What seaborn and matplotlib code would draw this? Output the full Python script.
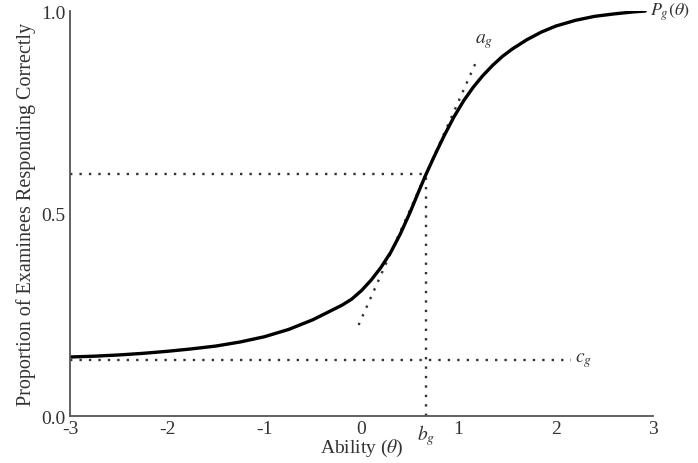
import matplotlib
matplotlib.use('agg')
import matplotlib.pyplot as plt
import seaborn as sns
import pandas as pd

# values
theta = [-3.0, -2.75, -2.5, -2.25, -2.0, -1.75, -1.5, -1.25, -1.0, -0.75, -0.5,
         -0.3, -0.2, -0.1, 0.0, 0.1, 0.2, 0.3, 0.4, 0.5, 0.6, 0.664, 0.75, 0.85,
         0.95, 1.05, 1.15, 1.25, 1.35, 1.45, 1.55, 1.7, 1.85, 2.0, 2.2, 2.4, 2.6,
         2.8, 2.92]
prob = [0.146, 0.148, 0.151, 0.155, 0.160, 0.166, 0.173, 0.183, 0.196, 0.214, 0.238,
        0.262, 0.274, 0.289, 0.310, 0.336, 0.367, 0.404, 0.450, 0.503, 0.561, 0.597,
        0.642, 0.692, 0.738, 0.778, 0.812, 0.841, 0.866, 0.888, 0.906, 0.929, 0.948,
        0.963, 0.977, 0.987, 0.993, 0.998, 1.0]
b_g = 0.664
p_b = 0.597
c_g = 0.139
c_end = 2.16
tangent_x = [-0.03, 1.19]
tangent_y = [0.225, 0.88]
xticks = [-3, -2, -1, 0, 1, 2, 3]
xtick_labels = ['-3', '-2', '-1', '0', '1', '2', '3']
yticks = [0.0, 0.5, 1.0]
ytick_labels = ['0.0', '0.5', '1.0']

sns.set_style("white")
plt.rcParams['font.family'] = ['Liberation Serif', 'DejaVu Serif']
plt.rcParams['mathtext.fontset'] = 'stix'

df = pd.DataFrame({'theta': theta, 'p': prob})

fig = plt.figure(figsize=(6.98, 4.64), dpi=100)
ax = fig.add_axes([0.1003, 0.101, 0.8352, 0.873])

dots = dict(color='#333333', linewidth=1.7, linestyle=(0, (1, 3.0)))
ax.plot([-3, c_end], [c_g, c_g], **dots)
ax.plot([-3, b_g], [p_b, p_b], **dots)
ax.plot([b_g, b_g], [0, p_b], **dots)
ax.plot(tangent_x, tangent_y, **dots)

sns.lineplot(data=df, x='theta', y='p', color='black', linewidth=2.4, ax=ax)

ax.set_xlim(-3, 3)
ax.set_ylim(0, 1.0)
ax.set_xticks(xticks)
ax.set_xticklabels(xtick_labels)
ax.set_yticks(yticks)
ax.set_yticklabels(ytick_labels)
ax.tick_params(direction='in', length=11, width=1.3, color='#555555',
               labelsize=14, labelcolor='#333333')
ax.tick_params(axis='x', pad=3)
ax.tick_params(axis='y', pad=3)
for s in ['top', 'right']:
    ax.spines[s].set_visible(False)
for s in ['left', 'bottom']:
    ax.spines[s].set_color('#555555')
    ax.spines[s].set_linewidth(1.3)

ax.set_xlabel(r'Ability ($\theta$)', fontsize=14, color='#333333', labelpad=0)
ax.set_ylabel('Proportion of Examinees Responding Correctly', fontsize=14.5,
              color='#333333', labelpad=4)

ax.text(2.965, 1.0, r'$P_g(\theta)$', fontsize=13, va='center', ha='left',
        color='#333333', clip_on=False)
ax.text(1.17, 0.905, r'$a_g$', fontsize=14, va='bottom', ha='left', color='#333333')
ax.text(c_end + 0.04, c_g, r'$c_g$', fontsize=14, va='center', ha='left', color='#333333')
ax.text(b_g, -0.045, r'$b_g$', fontsize=14, va='center', ha='center', color='#333333',
        clip_on=False)

fig.savefig('out.png', dpi=100)
plt.close()
